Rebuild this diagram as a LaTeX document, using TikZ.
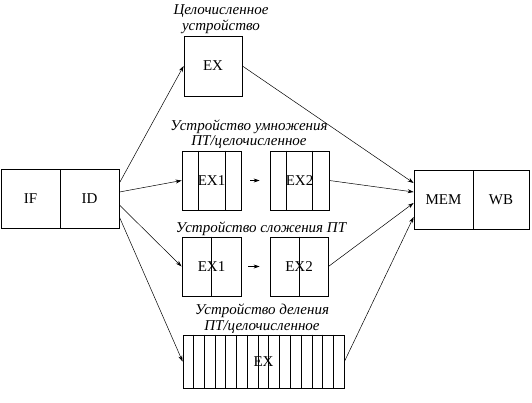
\documentclass[tikz,border=0pt]{standalone}
\usepackage{fontspec}
\setmainfont{Liberation Serif}
\usetikzlibrary{arrows.meta,calc}

\begin{document}
\begin{tikzpicture}[x=1pt, y=-1pt, >={Stealth[length=6pt,width=4pt]}, font=\fontsize{15}{16}\selectfont]
		\tikzset{st/.style={draw, line width=0.8pt, inner sep=0pt, minimum width=59pt, minimum height=59pt}}
		\tikzset{ttl/.style={align=center, inner sep=0pt, font=\fontsize{15}{15.5}\selectfont\itshape}}
		\tikzset{ln/.style={line width=0.5pt}}
		\useasboundingbox (0,0) rectangle (532,402);
		% IF / ID
		\node[st] (if) at (30.5,198.5) {IF};
		\node[st] (id) at (89.5,198.5) {ID};
		% integer unit
		\node[ttl] (t0) at (221,19) {Целочисленное\\устройство};
		\node[st, minimum width=58pt, minimum height=60pt] (ex) at (213,66) {EX};
		% multiplier
		\node[ttl] (t1) at (249,134) {Устройство умножения\\ПТ/целочисленное};
		\node[st] (m1) at (211.5,180.5) {EX1};
		\node[st] (m2) at (299.5,180.5) {EX2};
		\draw[line width=0.8pt] ([xshift=17pt]m1.north west) -- ([xshift=17pt]m1.south west) ([xshift=-16pt]m1.north east) -- ([xshift=-16pt]m1.south east);
		\draw[line width=0.8pt] ([xshift=17pt]m2.north west) -- ([xshift=17pt]m2.south west) ([xshift=-17pt]m2.north east) -- ([xshift=-17pt]m2.south east);
		\draw[ln,->, shorten <=9pt, shorten >=10pt] (m1) -- (m2);
		% adder
		\node[ttl] (t2) at (261,229) {Устройство сложения ПТ};
		\node[st] (a1) at (211.5,266.5) {EX1};
		\node[st, minimum width=58pt] (a2) at (299,266.5) {EX2};
		\draw[line width=0.8pt] (a1.north) -- (a1.south) (a2.north) -- (a2.south);
		\draw[ln,->, shorten <=7pt, shorten >=10pt] (a1) -- (a2);
		% divider
		\node[ttl] (t3) at (262,318.5) {Устройство деления\\ПТ/целочисленное};
		\node[st, minimum width=161pt, minimum height=53pt] (dv) at (263.5,361.5) {EX};
		\foreach \i in {1,...,14}
			\draw[line width=0.8pt] ($(dv.north west)!\i/15!(dv.north east)$) -- ($(dv.south west)!\i/15!(dv.south east)$);
		% MEM / WB
		\node[st] (mem) at (443.5,199.5) {MEM};
		\node[st, minimum width=56pt] (wb) at (501,199.5) {WB};
		% issue
		\draw[ln,->] ([yshift=15.5pt]id.east) -- (ex.west);
		\draw[ln,->] ([yshift=6.5pt]id.east) -- (m1.west);
		\draw[ln,->] ([yshift=-6.5pt]id.east) -- (a1.west);
		\draw[ln,->] ([yshift=-18.5pt]id.east) -- (dv.west);
		% write back
		\draw[ln,->] (ex.east) -- ([yshift=16.5pt]mem.west);
		\draw[ln,->] (m2.east) -- ([yshift=7.5pt]mem.west);
		\draw[ln,->] (a2.east) -- ([yshift=-3.5pt]mem.west);
		\draw[ln,->] (dv.east) -- ([yshift=-17.5pt]mem.west);
	\end{tikzpicture}
\end{document}
